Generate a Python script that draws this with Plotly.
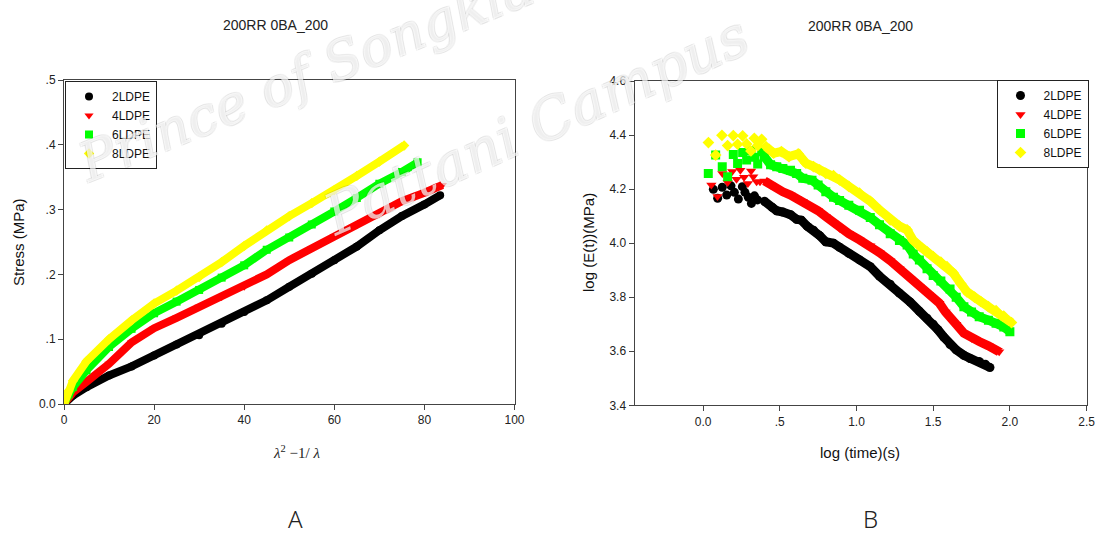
import plotly.graph_objects as go

W, H = 1102, 536

names = ["2LDPE", "4LDPE", "6LDPE", "8LDPE"]
colors = ["#000000", "#ff0000", "#00ff00", "#ffff00"]
symbols = ["circle", "triangle-down", "square", "diamond"]

# ---- Panel A: stress vs (lambda^2 - 1/lambda)
a_x_2 = [0, 1, 2, 5, 10, 15, 20, 25, 30, 35, 40, 45, 50, 55, 60, 65, 70, 75, 80, 83.5]
a_y_2 = [0, 0.008, 0.013, 0.026, 0.044, 0.058, 0.075, 0.092, 0.106, 0.124, 0.142, 0.160,
         0.181, 0.201, 0.222, 0.243, 0.268, 0.290, 0.308, 0.322]
a_x_4 = [0, 1, 2, 5, 10, 15, 20, 25, 30, 35, 40, 45, 50, 55, 60, 65, 70, 75, 80, 84]
a_y_4 = [0, 0.010, 0.018, 0.034, 0.062, 0.095, 0.117, 0.133, 0.150, 0.165, 0.181, 0.200,
         0.222, 0.240, 0.259, 0.276, 0.294, 0.313, 0.326, 0.338]
a_x_6 = [0, 1, 2, 5, 10, 15, 20, 25, 30, 35, 40, 45, 50, 55, 60, 65, 70, 75, 78.5]
a_y_6 = [0, 0.015, 0.026, 0.052, 0.088, 0.116, 0.140, 0.158, 0.176, 0.195, 0.214, 0.238,
         0.257, 0.277, 0.297, 0.318, 0.340, 0.358, 0.373]
a_x_8 = [0, 1, 2, 5, 10, 15, 20, 25, 30, 35, 40, 45, 50, 55, 60, 65, 70, 75.5]
a_y_8 = [0, 0.020, 0.036, 0.066, 0.100, 0.129, 0.155, 0.175, 0.196, 0.219, 0.244, 0.268,
         0.290, 0.310, 0.330, 0.352, 0.374, 0.399]

# ---- Panel B: log E(t) vs log time
b_x_2 = [0.067, 0.095, 0.125, 0.154, 0.182, 0.204, 0.230, 0.256, 0.273, 0.295, 0.315, 0.335, 0.355,
         0.40, 0.45, 0.48, 0.52, 0.57, 0.61, 0.64, 0.68, 0.72, 0.76, 0.80, 0.85, 0.89, 0.95, 1.02,
         1.09, 1.15, 1.22, 1.28, 1.35, 1.41, 1.46, 1.50, 1.53, 1.57, 1.61, 1.65, 1.70, 1.74, 1.80,
         1.84, 1.87]
b_y_2 = [4.199, 4.166, 4.207, 4.178, 4.212, 4.188, 4.163, 4.209, 4.188, 4.170, 4.147, 4.175, 4.160,
         4.155, 4.133, 4.120, 4.115, 4.105, 4.088, 4.085, 4.062, 4.048, 4.028, 4.005, 4.000, 3.985,
         3.962, 3.938, 3.913, 3.878, 3.848, 3.815, 3.782, 3.748, 3.722, 3.700, 3.680, 3.652, 3.625,
         3.605, 3.585, 3.573, 3.562, 3.552, 3.540]
b_x_4 = [0.054, 0.094, 0.126, 0.160, 0.190, 0.218, 0.243, 0.267, 0.292, 0.313, 0.327, 0.349, 0.371,
         0.40, 0.44, 0.48, 0.52, 0.57, 0.61, 0.65, 0.71, 0.75, 0.80, 0.85, 0.89, 0.95, 1.02, 1.09,
         1.15, 1.22, 1.28, 1.35, 1.41, 1.47, 1.54, 1.58, 1.61, 1.65, 1.70, 1.75, 1.80, 1.86, 1.92, 1.93]
b_y_4 = [4.215, 4.173, 4.258, 4.224, 4.265, 4.236, 4.270, 4.244, 4.221, 4.267, 4.246, 4.227, 4.227,
         4.230, 4.215, 4.203, 4.190, 4.178, 4.166, 4.153, 4.133, 4.120, 4.098, 4.075, 4.055, 4.035,
         4.012, 3.990, 3.965, 3.935, 3.905, 3.870, 3.840, 3.810, 3.778, 3.745, 3.722, 3.700, 3.667,
         3.648, 3.636, 3.620, 3.604, 3.598]
b_x_6 = [0.034, 0.082, 0.125, 0.160, 0.197, 0.225, 0.258, 0.284, 0.312, 0.338, 0.356, 0.382,
         0.40, 0.44, 0.48, 0.52, 0.57, 0.61, 0.65, 0.71, 0.75, 0.80, 0.85, 0.89, 0.95, 1.02, 1.09,
         1.15, 1.22, 1.28, 1.33, 1.37, 1.41, 1.46, 1.50, 1.55, 1.61, 1.65, 1.70, 1.75, 1.80, 1.86,
         1.91, 1.96, 2.00]
b_y_6 = [4.258, 4.326, 4.283, 4.246, 4.328, 4.295, 4.335, 4.308, 4.342, 4.318, 4.293, 4.338,
         4.320, 4.290, 4.283, 4.276, 4.270, 4.258, 4.240, 4.233, 4.215, 4.190, 4.170, 4.158, 4.140,
         4.122, 4.095, 4.068, 4.035, 4.010, 3.993, 3.960, 3.938, 3.905, 3.880, 3.860, 3.830, 3.800,
         3.765, 3.745, 3.728, 3.715, 3.704, 3.690, 3.672]
b_x_8 = [0.035, 0.082, 0.123, 0.160, 0.197, 0.225, 0.258, 0.284, 0.312, 0.334, 0.356, 0.382,
         0.41, 0.46, 0.51, 0.56, 0.62, 0.67, 0.72, 0.76, 0.80, 0.85, 0.89, 0.95, 1.02, 1.09, 1.15,
         1.22, 1.28, 1.33, 1.37, 1.41, 1.46, 1.50, 1.55, 1.59, 1.63, 1.68, 1.72, 1.77, 1.81, 1.86,
         1.91, 1.96, 2.01]
b_y_8 = [4.372, 4.326, 4.399, 4.361, 4.398, 4.366, 4.397, 4.367, 4.341, 4.388, 4.361, 4.384,
         4.357, 4.333, 4.339, 4.320, 4.330, 4.296, 4.283, 4.271, 4.258, 4.250, 4.234, 4.210, 4.185,
         4.155, 4.123, 4.086, 4.063, 4.049, 4.010, 3.990, 3.968, 3.950, 3.930, 3.913, 3.890, 3.850,
         3.820, 3.800, 3.784, 3.765, 3.750, 3.730, 3.706]

a_ticks = [0, 20, 40, 60, 80, 100]
a_yticks = [0.0, 0.1, 0.2, 0.3, 0.4, 0.5]
a_yticktext = ["0.0", ".1", ".2", ".3", ".4", ".5"]
b_xticks = [0.0, 0.5, 1.0, 1.5, 2.0, 2.5]
b_xticktext = ["0.0", ".5", "1.0", "1.5", "2.0", "2.5"]
b_yticks = [3.4, 3.6, 3.8, 4.0, 4.2, 4.4, 4.6]
b_yticktext = ["3.4", "3.6", "3.8", "4.0", "4.2", "4.4", "4.6"]

title_text = "200RR 0BA_200"
band_start = 0.39  # panel B: where dense data begins (drawn as a band)

A = dict(x=[a_x_2, a_x_4, a_x_6, a_x_8], y=[a_y_2, a_y_4, a_y_6, a_y_8])
B = dict(x=[b_x_2, b_x_4, b_x_6, b_x_8], y=[b_y_2, b_y_4, b_y_6, b_y_8])

fig = go.Figure()

for i in range(4):
    fig.add_trace(go.Scatter(x=A["x"][i], y=A["y"][i], mode="lines",
                             line=dict(color=colors[i], width=8),
                             showlegend=False, xaxis="x", yaxis="y", hoverinfo="skip"))
    fig.add_trace(go.Scatter(x=A["x"][i], y=A["y"][i], mode="markers", name=names[i],
                             marker=dict(color=colors[i], symbol=symbols[i], size=8, line=dict(width=0)),
                             xaxis="x", yaxis="y", legend="legend"))

for i in range(4):
    bx, by = B["x"][i], B["y"][i]
    dx = [x for x in bx if x >= band_start]
    dy = [y for x, y in zip(bx, by) if x >= band_start]
    fig.add_trace(go.Scatter(x=dx, y=dy, mode="lines",
                             line=dict(color=colors[i], width=9),
                             showlegend=False, xaxis="x2", yaxis="y2", hoverinfo="skip"))
    fig.add_trace(go.Scatter(x=bx, y=by, mode="markers", name=names[i],
                             marker=dict(color=colors[i], symbol=symbols[i], size=9, line=dict(width=0)),
                             xaxis="x2", yaxis="y2", legend="legend2"))

def px(x):
    return x / W

def py(y):
    return 1 - y / H

tickfont = dict(family="Liberation Sans, Arial", size=12, color="#222")
axis_common = dict(showline=True, linecolor="#444", linewidth=1, mirror=True,
                   ticks="outside", ticklen=5, tickcolor="#444", showgrid=False,
                   zeroline=False, tickfont=tickfont, automargin=False)

legfont = dict(family="Liberation Sans, Arial", size=12, color="#111")
fig.update_layout(
    width=W, height=H,
    margin=dict(l=0, r=0, t=0, b=0, pad=0, autoexpand=False),
    paper_bgcolor="white", plot_bgcolor="white",
    xaxis=dict(domain=[px(64), px(514.5)], range=[0, 100], tickvals=a_ticks, anchor="y",
               **axis_common),
    yaxis=dict(domain=[py(404), py(80)], range=[0, 0.5], tickvals=a_yticks,
               ticktext=a_yticktext, anchor="x", **axis_common),
    xaxis2=dict(domain=[px(634.5), px(1086.6)], range=[-0.447, 2.5], tickvals=b_xticks,
                ticktext=b_xticktext, anchor="y2", **axis_common),
    yaxis2=dict(domain=[py(405.3), py(81)], range=[3.4, 4.6], tickvals=b_yticks,
                ticktext=b_yticktext, anchor="x2", **axis_common),
    legend=dict(x=px(65), y=py(81), xanchor="left", yanchor="top", bgcolor="white",
                bordercolor="#222", borderwidth=1, font=legfont, itemwidth=36),
    legend2=dict(x=px(1088.5), y=py(80), xanchor="right", yanchor="top", bgcolor="white",
                 bordercolor="#222", borderwidth=1, font=legfont, itemwidth=36),
    showlegend=True,
)

ann = []

def add_text(text, x, y, font, angle=0):
    ann.append(dict(text=text, x=px(x), y=py(y), xref="paper", yref="paper",
                    xanchor="center", yanchor="middle", showarrow=False,
                    textangle=angle, font=font))

# faint outlined watermark
sh = "rgba(0,0,0,0.08)"
wfont = dict(family="DejaVu Serif", size=54, color="rgba(255,255,255,0.7)", style="italic",
             shadow=f"-1px -1px 0 {sh}, 1px -1px 0 {sh}, -1px 1px 0 {sh}, 1px 1px 0 {sh}")
add_text("Prince of Songkla University", 445, 18, wfont, -22)
add_text("Pattani Campus", 536, 125, dict(wfont, size=57), -24)

tfont = dict(family="Liberation Sans, Arial", size=14, color="#222")
add_text(title_text, 275, 25, tfont)
add_text(title_text, 860, 26, tfont)
lfont = dict(family="Liberation Sans, Arial", size=15, color="#111")
add_text("Stress (MPa)", 18, 242, lfont, -90)
add_text("log (E(t))(MPa)", 588, 243, lfont, -90)
add_text("log (time)(s)", 860, 452, lfont)
add_text("<i>λ</i><sup>2</sup> −1/ <i>λ</i>", 296, 452,
         dict(family="Liberation Serif, Times New Roman", size=15, color="#222"))
pfont = dict(family="Noto Sans", size=24, color="#222", weight=300)
add_text("A", 295, 518, pfont)
add_text("B", 870, 518, pfont)

fig.update_layout(annotations=ann)

fig.write_html("out.html",
               config={"displayModeBar": False},
               post_script="document.body.style.margin='0px';"
                           "document.body.style.overflow='hidden';")
